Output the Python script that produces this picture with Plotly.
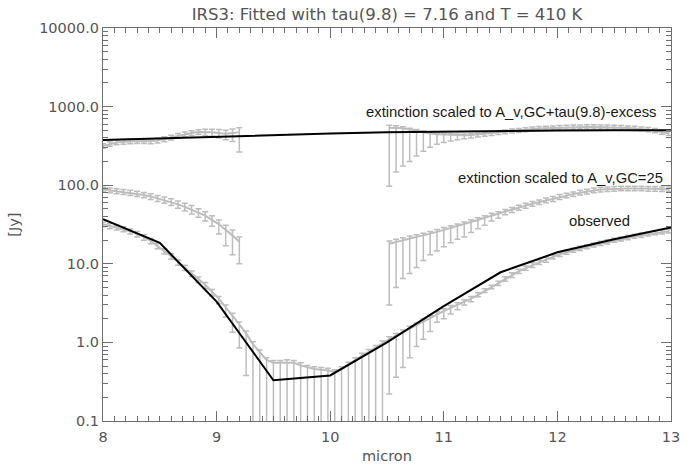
import plotly.graph_objects as go

# ---------------- data ----------------
wavelength = [
    8.00, 8.06, 8.12, 8.18, 8.24, 8.30, 8.36, 8.42, 8.48, 8.54,
    8.60, 8.66, 8.72, 8.78, 8.84, 8.90, 8.96, 9.02, 9.08, 9.14,
    9.20, 9.26, 9.32, 9.38, 9.44, 9.50, 9.56, 9.62, 9.68, 9.74,
    9.80, 9.86, 9.92, 9.98, 10.04, 10.10, 10.16, 10.22, 10.28, 10.34,
    10.40, 10.46, 10.52, 10.58, 10.64, 10.70, 10.76, 10.82, 10.88, 10.94,
    11.00, 11.06, 11.12, 11.18, 11.24, 11.30, 11.36, 11.42, 11.48, 11.54,
    11.60, 11.66, 11.72, 11.78, 11.84, 11.90, 11.96, 12.02, 12.08, 12.14,
    12.20, 12.26, 12.32, 12.38, 12.44, 12.50, 12.56, 12.62, 12.68, 12.74,
    12.80, 12.86, 12.92, 12.98,
]

# observed flux [Jy] with lower / upper error-bar ends
obs_flux = [
    32, 30.5, 29, 27.5, 26, 24, 22, 19.5, 17, 14.5,
    12.5, 10.5, 9.0, 7.6, 6.4, 5.4, 4.4, 3.6, 2.8, 2.2,
    1.7, 1.3, 0.95, 0.75, 0.6, 0.55, 0.55, 0.56, 0.55, 0.51,
    0.48, 0.46, 0.45, 0.44, 0.42, 0.46, 0.52, 0.6, 0.68, 0.76,
    0.85, 0.97, 1.1, 1.22, 1.35, 1.5, 1.65, 1.85, 2.05, 2.3,
    2.5, 2.75, 3.0, 3.3, 3.6, 4.0, 4.5, 5.0, 5.6, 6.4,
    7.2, 8.0, 8.8, 9.6, 10.4, 11.2, 12.2, 13.2, 14.0, 14.8,
    15.6, 16.4, 17.2, 18.0, 18.9, 19.8, 20.6, 21.4, 22.2, 23.0,
    23.8, 24.6, 25.3, 26.0,
]
obs_low = [
    29.5, 28, 27, 25.5, 24, 22, 20, 18, 15.5, 13.3,
    11.4, 9.6, 8.2, 6.9, 5.8, 4.8, 3.9, 3.1, 2.1, 1.35,
    0.85, 0.38, 0.05, 0.05, 0.05, 0.05, 0.05, 0.05, 0.05, 0.05,
    0.05, 0.05, 0.05, 0.05, 0.05, 0.05, 0.05, 0.05, 0.05, 0.05,
    0.05, 0.05, 0.22, 0.36, 0.48, 0.64, 0.89, 1.1, 1.38, 1.8,
    2.0, 2.3, 2.6, 3.0, 3.3, 3.8, 4.3, 4.8, 5.3, 6.0,
    6.7, 7.5, 8.3, 9.0, 9.8, 10.5, 11.5, 12.4, 13.2, 14.0,
    14.8, 15.5, 16.3, 17.1, 17.9, 18.8, 19.5, 20.3, 21.1, 21.8,
    22.6, 23.4, 24.0, 24.7,
]
obs_high = [
    34, 32.5, 31, 29.5, 27.8, 25.7, 23.5, 21, 18.2, 15.5,
    13.4, 11.2, 9.6, 8.1, 6.8, 5.8, 4.7, 3.85, 3.0, 2.35,
    1.82, 1.4, 1.02, 0.8, 0.64, 0.59, 0.59, 0.6, 0.59, 0.55,
    0.51, 0.49, 0.48, 0.47, 0.45, 0.49, 0.56, 0.64, 0.73, 0.81,
    0.91, 1.04, 1.18, 1.3, 1.44, 1.6, 1.76, 1.98, 2.2, 2.46,
    2.68, 2.94, 3.2, 3.5, 3.85, 4.28, 4.8, 5.35, 6.0, 6.85,
    7.7, 8.55, 9.4, 10.3, 11.1, 12.0, 13.0, 14.1, 15.0, 15.8,
    16.7, 17.5, 18.4, 19.3, 20.2, 21.2, 22.0, 22.9, 23.8, 24.6,
    25.5, 26.3, 27.1, 27.8,
]

# extinction scaled to A_v,GC=25  (blue side 8.00-9.20, red side 10.52-12.98)
gc_blue_flux = [88, 86, 84, 82, 80, 78, 75, 72, 68, 65, 61, 57, 53, 49, 45, 41, 36, 32, 27, 23, 19]
gc_blue_low = [82, 80, 78, 76, 74, 72, 69, 66, 62, 59, 55, 51, 47, 43, 39, 35, 30, 24, 17, 13, 10]
gc_blue_high = [94, 92, 90, 88, 86, 84, 81, 78, 74, 71, 67, 63, 59, 55, 50, 46, 41, 36, 31, 27, 22]
gc_red_flux = [
    18, 19, 20, 21, 22, 23, 24, 25.5, 27, 28.5,
    30, 32, 34, 36, 38.5, 41, 43, 46, 49, 52,
    55, 58, 61, 64, 67, 71, 74, 77, 80, 83,
    86, 88, 89, 90, 91, 91, 91, 91, 90, 90,
    89, 89,
]
gc_red_low = [
    3.0, 5.0, 6.5, 7.5, 9.0, 11, 13, 14.5, 16.5, 18.5,
    20.5, 22, 25, 28, 31, 35, 38, 42, 45, 48,
    51, 54, 57, 60, 62, 66, 69, 72, 75, 77,
    80, 82, 83, 84, 85, 85, 85, 85, 84, 84,
    83, 83,
]
gc_red_high = [
    19.5, 20.5, 21.5, 22.5, 23.5, 24.5, 25.7, 27.3, 28.9, 30.5,
    32, 34, 36.4, 38.5, 41, 44, 46, 49, 52, 55.6,
    59, 62, 65, 68.5, 72, 76, 79, 82, 86, 89,
    92, 94, 95, 96, 97, 97, 97, 97, 96, 96,
    95, 95,
]

# extinction scaled to A_v,GC + tau(9.8)-excess
ex_blue_flux = [315, 335, 350, 358, 362, 365, 365, 362, 370, 385, 405, 425, 445, 462, 475, 478, 472, 460, 450, 460, 470]
ex_blue_low = [295, 312, 326, 333, 337, 340, 340, 337, 344, 358, 377, 395, 414, 430, 440, 430, 420, 400, 380, 360, 265]
ex_blue_high = [338, 358, 375, 383, 387, 390, 390, 387, 396, 412, 433, 455, 476, 494, 508, 515, 515, 510, 500, 520, 540]
ex_red_flux = [
    540, 540, 530, 510, 490, 470, 455, 445, 440, 435,
    432, 432, 435, 440, 450, 460, 470, 480, 490, 500,
    510, 518, 525, 530, 535, 540, 545, 548, 550, 552,
    552, 550, 548, 545, 540, 535, 528, 520, 510, 495,
    475, 455,
]
ex_red_low = [
    97, 147, 175, 200, 235, 270, 305, 333, 350, 365,
    380, 390, 400, 410, 420, 430, 440, 450, 460, 468,
    477, 485, 492, 497, 502, 507, 512, 515, 517, 518,
    518, 517, 515, 512, 508, 503, 496, 488, 478, 465,
    446, 428,
]
ex_red_high = [
    580, 570, 555, 532, 510, 490, 473, 462, 456, 451,
    448, 448, 451, 458, 470, 482, 494, 505, 517, 528,
    540, 550, 557, 563, 568, 574, 579, 582, 584, 586,
    586, 584, 582, 579, 574, 568, 561, 552, 542, 526,
    505, 484,
]

# model curves (black)
model_wl = [8.0, 8.5, 9.0, 9.5, 10.0, 10.5, 11.0, 11.5, 12.0, 12.5, 13.0]
model_fit = [37, 18.5, 3.3, 0.33, 0.38, 1.0, 2.9, 7.8, 14, 20.5, 29]
model_excess = [375, 395, 415, 435, 455, 470, 480, 488, 495, 500, 500]

y_tickvals = [0.1, 1, 10, 100, 1000, 10000]
y_ticktext = ["0.1", "1.0", "10.0", "100.0", "1000.0", "10000.0"]

# ---------------- figure ----------------
GRAY = "#bdbdbd"
AXC = "#6e6e6e"
TXT = "#555555"

fig = go.Figure()


def add_series(x, y, lo, hi):
    fig.add_trace(go.Scatter(
        x=x, y=y, mode="lines",
        line=dict(color=GRAY, width=2),
        error_y=dict(type="data", symmetric=False,
                     array=[h - v for h, v in zip(hi, y)],
                     arrayminus=[v - l for v, l in zip(y, lo)],
                     color=GRAY, thickness=1.5, width=3),
        showlegend=False, hoverinfo="skip"))


add_series(wavelength, obs_flux, obs_low, obs_high)
add_series(wavelength[:21], gc_blue_flux, gc_blue_low, gc_blue_high)
add_series(wavelength[42:], gc_red_flux, gc_red_low, gc_red_high)
add_series(wavelength[:21], ex_blue_flux, ex_blue_low, ex_blue_high)
add_series(wavelength[42:], ex_red_flux, ex_red_low, ex_red_high)

for yy in (model_fit, model_excess):
    fig.add_trace(go.Scatter(x=model_wl, y=yy, mode="lines",
                             line=dict(color="black", width=2),
                             showlegend=False, hoverinfo="skip"))

minor_y = [m * 10 ** e for e in range(-1, 4) for m in range(2, 10)]

TICKF = dict(family="DejaVu Sans", size=14.5, color=TXT)

fig.update_layout(
    width=699, height=466,
    margin=dict(l=103, r=28, t=28, b=45),
    paper_bgcolor="white", plot_bgcolor="white",
    title=dict(text="IRS3: Fitted with tau(9.8) = 7.16 and T = 410 K",
               x=0.5, xref="paper", xanchor="center",
               y=0.970, yanchor="middle",
               font=dict(family="DejaVu Sans", size=16.5, color=TXT)),
    xaxis=dict(range=[8, 13], dtick=1, tick0=8, showgrid=False, zeroline=False,
               showline=True, linecolor=AXC, linewidth=1, mirror="allticks",
               ticks="inside", ticklen=10, tickcolor=AXC, ticklabelstandoff=3,
               minor=dict(dtick=0.1, tick0=8, ticks="inside", ticklen=5, tickcolor=AXC),
               tickfont=TICKF),
    yaxis=dict(type="log", range=[-1, 4], tickmode="array",
               tickvals=y_tickvals, ticktext=y_ticktext,
               showgrid=False, zeroline=False,
               showline=True, linecolor=AXC, linewidth=1, mirror="allticks",
               ticks="inside", ticklen=10, tickcolor=AXC,
               minor=dict(tickmode="array", tickvals=minor_y, ticks="inside",
                          ticklen=5, tickcolor=AXC),
               tickfont=TICKF),
)

LBL = dict(family="Liberation Sans", size=14.8, color="#1a1a1a")
fig.add_annotation(text="extinction scaled to A_v,GC+tau(9.8)-excess", xref="paper", yref="paper",
                   x=0.977, y=0.786, xanchor="right", yanchor="middle", showarrow=False, font=LBL)
fig.add_annotation(text="extinction scaled to A_v,GC=25", xref="paper", yref="paper",
                   x=0.989, y=0.618, xanchor="right", yanchor="middle", showarrow=False, font=LBL)
fig.add_annotation(text="observed", xref="paper", yref="paper",
                   x=0.931, y=0.509, xanchor="right", yanchor="middle", showarrow=False, font=LBL)
fig.add_annotation(text="micron", xref="paper", yref="paper", x=0.5, y=-0.089,
                   xanchor="center", yanchor="middle", showarrow=False,
                   font=dict(family="DejaVu Sans", size=14.5, color=TXT))
fig.add_annotation(text="[Jy]", xref="paper", yref="paper", x=-0.158, y=0.5,
                   xanchor="center", yanchor="middle", textangle=-90, showarrow=False,
                   font=dict(family="DejaVu Sans", size=14.5, color=TXT))

fig.write_html("out.html")
